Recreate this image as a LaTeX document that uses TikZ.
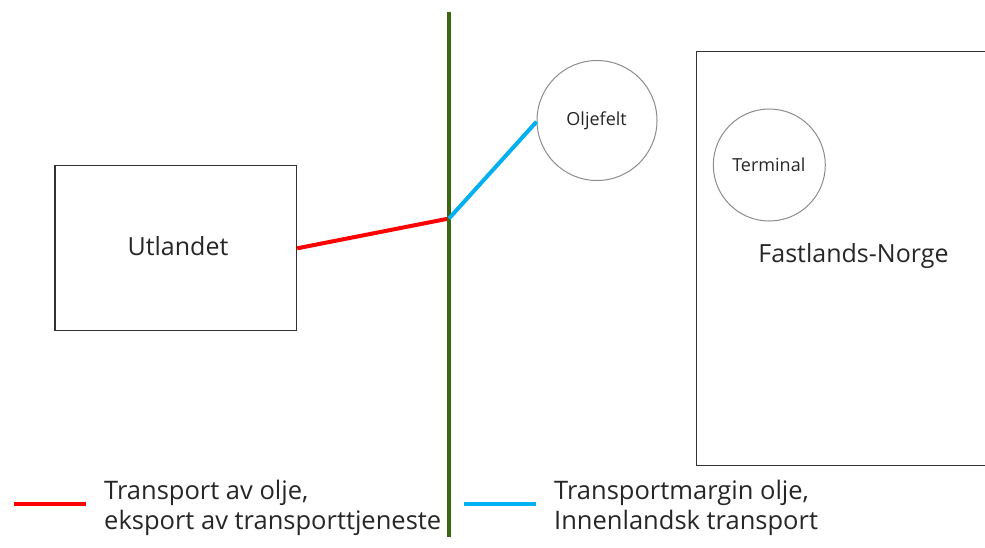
\documentclass[tikz,border=0pt]{standalone}
\usepackage{fontspec}
\setmainfont{Open Sans}
\definecolor{redl}{HTML}{FF0000}
\definecolor{bluel}{HTML}{00B0F0}
\definecolor{greenl}{HTML}{38690F}
\definecolor{boxc}{HTML}{333333}
\definecolor{circc}{HTML}{8C8C8C}
\begin{document}
\begin{tikzpicture}[x=1pt,y=-1pt,
  boxstyle/.style={draw=boxc,line width=1.3pt,inner sep=0pt},
  circstyle/.style={draw=circc,line width=1pt,circle,inner sep=0pt},
  bigtext/.style={font=\fontsize{25}{30}\selectfont,text=black!85},
  smalltext/.style={font=\fontsize{18}{22}\selectfont,text=black!85},
  legtext/.style={font=\fontsize{25.5}{30}\selectfont,text=black!85,align=left,anchor=west,inner sep=0pt},
  redline/.style={draw=redl,line width=4pt},
  blueline/.style={draw=bluel,line width=4pt},
  greenline/.style={draw=greenl,line width=4.5pt}]
\useasboundingbox (0,0) rectangle (985,547);
% Utlandet box
\node[boxstyle,minimum width=241.7pt,minimum height=165pt,anchor=north west] (utl) at (54.2,165) {};
\node[bigtext] (utltxt) at (178,246.5) {Utlandet};
% Fastlands-Norge box (cut at right edge)
\draw[boxc,line width=1.3pt] (1000,51.7) -- (696.8,51.7) -- (696.8,465.7) -- (1000,465.7);
\node[bigtext] (fnt) at (853.5,255.5) {Fastlands-Norge};
% circles
\node[circstyle,minimum size=120pt] (olj) at (597,120.5) {};
\node[smalltext] (oljt) at (596.6,120.7) {Oljefelt};
\node[circstyle,minimum size=112pt] (term) at (769.3,165) {};
\node[smalltext] (termt) at (768.8,165) {Terminal};
% border line
\coordinate (gtop) at (449,11.7);
\coordinate (gbot) at (449,536.7);
\coordinate (junc) at (449,218.5);
\draw[redline] (utl.east |- 0,248.3) -- (junc);
\draw[greenline] (gtop) -- (gbot);
\draw[blueline] (junc) -- (olj.west |- 0,121.7);
% legend
\coordinate (r1) at (13.8,503.7);
\coordinate (r2) at (86,503.7);
\draw[redline] (r1) -- (r2);
\node[legtext] (lt1) at (104,508) {Transport av olje,\\eksport av transporttjeneste};
\coordinate (b1) at (463.6,503.7);
\coordinate (b2) at (535.8,503.7);
\draw[blueline] (b1) -- (b2);
\node[legtext] (lt2) at (554,508) {Transportmargin olje,\\Innenlandsk transport};
\end{tikzpicture}
\end{document}
